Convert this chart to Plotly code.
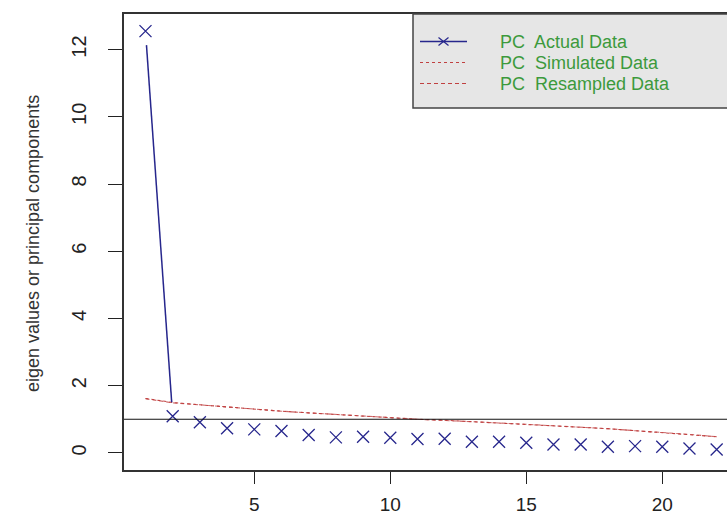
import math
import plotly.graph_objects as go

# ---------------- data ----------------
components = list(range(1, 23))
pc_actual = [12.55, 1.09, 0.91, 0.73, 0.70, 0.65, 0.53, 0.46, 0.48, 0.45, 0.41,
             0.42, 0.33, 0.33, 0.30, 0.25, 0.25, 0.18, 0.20, 0.18, 0.13, 0.10]
pc_simulated = [1.62, 1.50, 1.43, 1.36, 1.29, 1.24, 1.19, 1.14, 1.10, 1.05, 1.00,
                0.97, 0.93, 0.89, 0.85, 0.81, 0.77, 0.72, 0.66, 0.60, 0.55, 0.48]
pc_resampled = [1.61, 1.49, 1.43, 1.36, 1.30, 1.24, 1.19, 1.15, 1.10, 1.05, 1.00,
                0.97, 0.93, 0.89, 0.85, 0.81, 0.77, 0.72, 0.66, 0.61, 0.55, 0.48]
reference_eigen = 1
x_ticks = [5, 10, 15, 20]
y_ticks = [0, 2, 4, 6, 8, 10, 12]
legend_labels = ["PC\u00a0 Actual Data", "PC\u00a0 Simulated Data", "PC\u00a0 Resampled Data"]
y_title = "eigen values or principal components"

# ---------------- layout constants ----------------
FIG_W, FIG_H = 727, 514
M_L, M_R, M_T, M_B = 124, 0, 14, 44
X_RANGE = [0.21, 22.38]
Y_RANGE = [-0.51, 13.06]
PLOT_W = FIG_W - M_L - M_R
PLOT_H = FIG_H - M_T - M_B
PX_X = PLOT_W / (X_RANGE[1] - X_RANGE[0])
PX_Y = PLOT_H / (Y_RANGE[1] - Y_RANGE[0])
GAP_PX = 14  # R type="b" gap around points

BLUE = "#26268c"
RED = "#c04040"
GREEN = "#3c9a3c"
FONT = "Liberation Sans, Arial, sans-serif"

fig = go.Figure()

# simulated / resampled lines
fig.add_trace(go.Scatter(x=components, y=pc_simulated, mode="lines",
                         line=dict(color=RED, width=1.1, dash="dot"),
                         showlegend=False, hoverinfo="skip"))
fig.add_trace(go.Scatter(x=components, y=pc_resampled, mode="lines",
                         line=dict(color=RED, width=1.1, dash="4px,3px"),
                         opacity=0.8, showlegend=False, hoverinfo="skip"))

# actual data: type="b" style segments (gaps around the points)
seg_x, seg_y = [], []
for i in range(len(components) - 1):
    x0, y0 = components[i], pc_actual[i]
    x1, y1 = components[i + 1], pc_actual[i + 1]
    dxp, dyp = (x1 - x0) * PX_X, (y1 - y0) * PX_Y
    length = math.hypot(dxp, dyp)
    if length > 2 * GAP_PX + 1:
        f = GAP_PX / length
        seg_x += [x0 + (x1 - x0) * f, x1 - (x1 - x0) * f, None]
        seg_y += [y0 + (y1 - y0) * f, y1 - (y1 - y0) * f, None]
fig.add_trace(go.Scatter(x=seg_x, y=seg_y, mode="lines",
                         line=dict(color=BLUE, width=1.5),
                         showlegend=False, hoverinfo="skip"))
fig.add_trace(go.Scatter(x=components, y=pc_actual, mode="markers",
                         marker=dict(symbol="x-thin-open", size=12,
                                     line=dict(color=BLUE, width=1.3), color=BLUE),
                         showlegend=False))

# reference line at eigenvalue 1
fig.add_hline(y=reference_eigen, line=dict(color="#111111", width=1.2))

# ---------------- legend (R-style box) ----------------
def px_x(p):
    return (p - M_L) / PLOT_W

def px_y(p):
    return 1 - (p - M_T) / PLOT_H

shapes = []
shapes.append(dict(type="rect", xref="paper", yref="paper",
                   x0=px_x(413), x1=px_x(745), y0=px_y(108), y1=px_y(14),
                   fillcolor="#e6e6e6", line=dict(color="#444444", width=1.5),
                   layer="above"))
rows = [41.5, 62.5, 83.5]
styles = [dict(color=BLUE, width=1.3, dash="solid"),
          dict(color=RED, width=1.1, dash="dot"),
          dict(color=RED, width=1.1, dash="4px,3px")]
for r, st in zip(rows, styles):
    shapes.append(dict(type="line", xref="paper", yref="paper",
                       x0=px_x(420), x1=px_x(467), y0=px_y(r), y1=px_y(r),
                       line=st, layer="above"))
# x marker on the actual-data legend sample
cx, cy, hs = 443.5, rows[0], 5
shapes.append(dict(type="line", xref="paper", yref="paper",
                   x0=px_x(cx - hs), x1=px_x(cx + hs), y0=px_y(cy - hs * 0.8), y1=px_y(cy + hs * 0.8),
                   line=dict(color=BLUE, width=1.2), layer="above"))
shapes.append(dict(type="line", xref="paper", yref="paper",
                   x0=px_x(cx - hs), x1=px_x(cx + hs), y0=px_y(cy + hs * 0.8), y1=px_y(cy - hs * 0.8),
                   line=dict(color=BLUE, width=1.2), layer="above"))

annotations = []
for r, lab in zip(rows, legend_labels):
    annotations.append(dict(text=lab, xref="paper", yref="paper",
                            x=px_x(498), y=px_y(r), xanchor="left", yanchor="middle",
                            showarrow=False, font=dict(family=FONT, size=18, color=GREEN)))
annotations.append(dict(text=y_title, xref="paper", yref="paper",
                        x=px_x(33), y=px_y(244), xanchor="center", yanchor="middle",
                        textangle=-90, showarrow=False,
                        font=dict(family=FONT, size=18, color="#333333")))

fig.update_layout(
    width=FIG_W, height=FIG_H,
    margin=dict(l=M_L, r=M_R, t=M_T, b=M_B, pad=0, autoexpand=False),
    paper_bgcolor="white", plot_bgcolor="white",
    shapes=list(fig.layout.shapes) + shapes,
    annotations=annotations,
    font=dict(family=FONT, color="#222222"),
    showlegend=False,
)
fig.update_xaxes(range=X_RANGE, tickvals=x_ticks, ticks="outside", ticklen=12,
                 tickwidth=1.3, tickcolor="#222222", showgrid=False, zeroline=False,
                 showline=True, mirror=True, linecolor="#333333", linewidth=1.5,
                 tickfont=dict(family=FONT, size=19, color="#222222"),
                 ticklabelstandoff=4, automargin=False)
fig.update_yaxes(range=Y_RANGE, tickvals=y_ticks, ticks="outside", ticklen=14,
                 tickwidth=1.3, tickcolor="#222222", showgrid=False, zeroline=False,
                 showline=True, mirror=False, linecolor="#333333", linewidth=1.5,
                 tickangle=-90, tickfont=dict(family=FONT, size=20, color="#222222"),
                 ticklabelstandoff=14, automargin=False)

fig.write_html("out.html", config={"displayModeBar": False},
               post_script="document.body.style.margin='0';document.body.style.overflow='hidden';")
